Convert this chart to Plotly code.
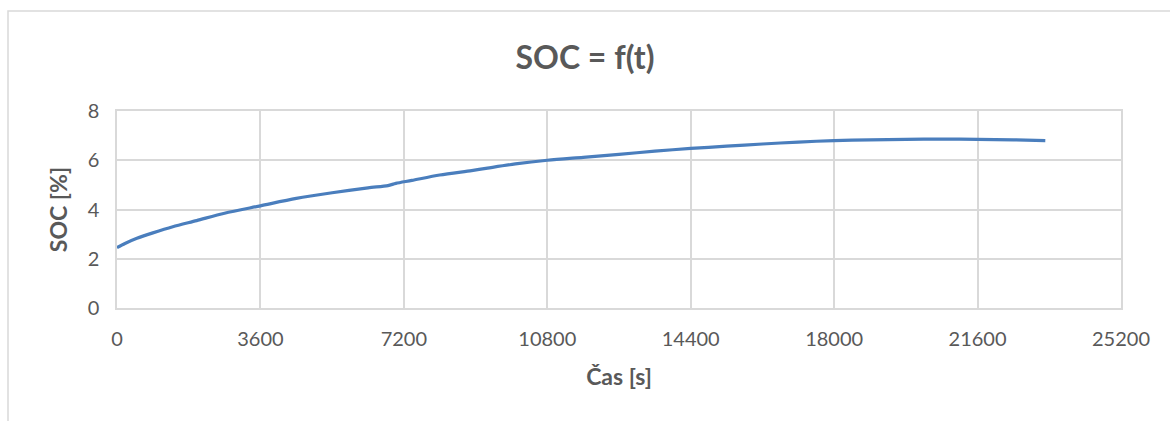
import plotly.graph_objects as go

# Elapsed time [s] and state of charge [%]
time_s = [0, 200, 500, 900, 1400, 2000, 2700, 3600, 4500, 5400, 6300, 6800,
          7000, 7400, 8100, 8900, 9300, 10000, 10800, 11700, 12600, 13500,
          14400, 15300, 16200, 17100, 18000, 18900, 19800, 20700, 21600,
          22500, 23300]
soc_pct = [2.45, 2.62, 2.83, 3.05, 3.30, 3.55, 3.85, 4.15, 4.45, 4.68, 4.88,
           4.97, 5.06, 5.18, 5.40, 5.58, 5.68, 5.85, 6.00, 6.12, 6.24, 6.37,
           6.48, 6.57, 6.66, 6.74, 6.80, 6.83, 6.85, 6.86, 6.85, 6.83, 6.80]

x_ticks = [0, 3600, 7200, 10800, 14400, 18000, 21600, 25200]
y_ticks = [0, 2, 4, 6, 8]

FONT = "Lato, 'Open Sans', sans-serif"
TEXT = "#595959"
GRID = "#d9d9d9"

fig = go.Figure()
fig.add_trace(go.Scatter(
    x=time_s, y=soc_pct, mode="lines",
    line=dict(color="#4a7ebd", width=3.2, shape="spline", smoothing=0.8),
    showlegend=False,
))

L, R, T, B = 117, 49, 111, 113
W, H = 1170, 421
pw, ph = W - L - R, H - T - B

fig.update_layout(
    width=W, height=H,
    margin=dict(l=L, r=R, t=T, b=B),
    paper_bgcolor="white", plot_bgcolor="white",
    font=dict(family=FONT, color=TEXT, size=20),
    title=dict(text="<b>SOC = f(t)</b>", x=0.5, xanchor="center",
               y=1 - 58 / H, yanchor="middle",
               font=dict(size=32, color=TEXT, family=FONT)),
    xaxis=dict(range=[0, 25200], tickvals=x_ticks,
               ticktext=[str(v) for v in x_ticks],
               showgrid=True, gridcolor=GRID, gridwidth=1.5,
               showline=True, linecolor=GRID, linewidth=1.5, mirror=True,
               zeroline=False, ticks="", ticklen=0, ticklabelstandoff=12,
               tickfont=dict(size=20, color=TEXT),
               title=dict(text="<b>Čas [s]</b>", standoff=20,
                          font=dict(size=23, color=TEXT))),
    yaxis=dict(range=[0, 8], tickvals=y_ticks,
               showgrid=True, gridcolor=GRID, gridwidth=1.5,
               showline=True, linecolor=GRID, linewidth=1.5, mirror=True,
               zeroline=False, ticks="", ticklen=0, ticklabelstandoff=12,
               tickfont=dict(size=20, color=TEXT),
               title=dict(text="<b>SOC [%]</b>", standoff=14,
                          font=dict(size=23, color=TEXT))),
)

# Chart frame around the whole figure area
fig.add_shape(type="rect", xref="paper", yref="paper",
              x0=(8 - L) / pw, x1=(W + 20 - L) / pw,
              y0=-(H + 20 - (H - B)) / ph, y1=((H - B) - 11) / ph,
              line=dict(color=GRID, width=1.5), fillcolor="rgba(0,0,0,0)",
              layer="below")

fig.write_html("out.html")
